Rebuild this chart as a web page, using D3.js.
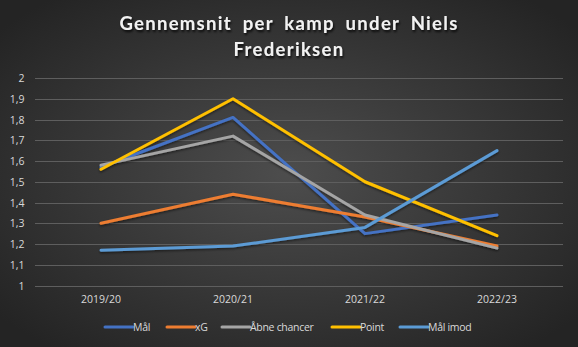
<!DOCTYPE html>
<html>
<head>
<meta charset="utf-8">
<script src="https://cdn.jsdelivr.net/npm/d3@7"></script>
<style>
html,body{margin:0;padding:0;background:#333;}
svg{display:block;}
</style>
</head>
<body>
<svg id="chart" width="578" height="347"></svg>
<script>
const categories = ["2019/20", "2020/21", "2021/22", "2022/23"];
const seriesNames = ["Mål", "xG", "Åbne chancer", "Point", "Mål imod"];
const maal = [1.57, 1.81, 1.25, 1.34];
const xg = [1.30, 1.44, 1.33, 1.19];
const aabneChancer = [1.58, 1.72, 1.34, 1.18];
const point = [1.56, 1.90, 1.50, 1.24];
const maalImod = [1.17, 1.19, 1.28, 1.65];
const yTicks = [1, 1.1, 1.2, 1.3, 1.4, 1.5, 1.6, 1.7, 1.8, 1.9, 2];
const colors = ["#4472C4", "#ED7D31", "#A5A5A5", "#FFC000", "#5B9BD5"];

const series = [maal, xg, aabneChancer, point, maalImod].map((v, i) => ({name: seriesNames[i], values: v, color: colors[i]}));

const W = 578, H = 347;
const svg = d3.select("#chart");
const defs = svg.append("defs");
const grad = defs.append("radialGradient").attr("id", "bg").attr("cx", "50%").attr("cy", "50%").attr("r", "65%");
grad.append("stop").attr("offset", "0%").attr("stop-color", "#4d4d4d");
grad.append("stop").attr("offset", "100%").attr("stop-color", "#242424");
svg.append("rect").attr("width", W).attr("height", H).attr("fill", "url(#bg)");

const shadow = defs.append("filter").attr("id", "ts").attr("x", "-10%").attr("y", "-30%").attr("width", "120%").attr("height", "160%");
shadow.append("feDropShadow").attr("dx", 1).attr("dy", 2).attr("stdDeviation", 1.2).attr("flood-color", "#000").attr("flood-opacity", 0.8);
const lshadow = defs.append("filter").attr("id", "ls").attr("x", "-10%").attr("y", "-10%").attr("width", "120%").attr("height", "120%");
lshadow.append("feDropShadow").attr("dx", 0).attr("dy", 1.5).attr("stdDeviation", 1).attr("flood-color", "#000").attr("flood-opacity", 0.5);

const x = d3.scaleBand().domain(categories).range([35, 563]);
const y = d3.scaleLinear().domain([1, 2]).range([285.5, 78]);

// title
const title = svg.append("text").attr("text-anchor", "middle").attr("fill", "#f2f2f2")
  .attr("font-family", "Lato, sans-serif").attr("font-weight", "bold").attr("font-size", 18.5)
  .attr("letter-spacing", 1.3).attr("word-spacing", 5).attr("filter", "url(#ts)");
title.append("tspan").attr("x", 289).attr("y", 30).text("Gennemsnit per kamp under Niels");
title.append("tspan").attr("x", 289).attr("y", 55.5).text("Frederiksen");

// gridlines
svg.append("g").selectAll("line").data(yTicks).join("line")
  .attr("x1", 35).attr("x2", 563)
  .attr("y1", d => Math.round(y(d)) + 0.5).attr("y2", d => Math.round(y(d)) + 0.5)
  .attr("stroke", "#5e5e5e").attr("stroke-width", 1);

// y axis
const yAxis = svg.append("g").attr("transform", "translate(24.5,0)")
  .call(d3.axisLeft(y).tickValues(yTicks).tickSize(0).tickPadding(0).tickFormat(d => d3.format(".1~f")(d).replace(".", ",")));
yAxis.select(".domain").remove();
yAxis.selectAll("text").attr("fill", "#d9d9d9").attr("font-family", "'Open Sans', sans-serif").attr("font-size", 10.5).attr("dy", "0.35em");

// x axis
const xAxis = svg.append("g").attr("transform", "translate(0,296)")
  .call(d3.axisBottom(x).tickSize(0).tickPadding(0));
xAxis.select(".domain").remove();
xAxis.selectAll("text").attr("fill", "#d9d9d9").attr("font-family", "'Open Sans', sans-serif").attr("font-size", 10.5).attr("dy", "0.71em");

// lines
const line = d3.line().x((d, i) => x(categories[i]) + x.bandwidth() / 2).y(d => y(d));
svg.append("g").attr("filter", "url(#ls)").selectAll("path").data(series).join("path")
  .attr("d", d => line(d.values)).attr("fill", "none").attr("stroke", d => d.color)
  .attr("stroke-width", 3).attr("stroke-linejoin", "round").attr("stroke-linecap", "round");

// legend
const legendX = [105, 167, 222, 332, 400];
const lg = svg.append("g").selectAll("g").data(series).join("g")
  .attr("transform", (d, i) => `translate(${legendX[i]},327)`);
lg.append("line").attr("x1", 0).attr("x2", 28).attr("y1", 0).attr("y2", 0)
  .attr("stroke", d => d.color).attr("stroke-width", 3).attr("stroke-linecap", "round");
lg.append("text").attr("x", 28).attr("y", 0).attr("dy", "0.35em").attr("fill", "#d9d9d9")
  .attr("font-family", "'Open Sans', sans-serif").attr("font-size", 10.5).attr("letter-spacing", -0.3).text(d => d.name);
</script>
</body>
</html>
